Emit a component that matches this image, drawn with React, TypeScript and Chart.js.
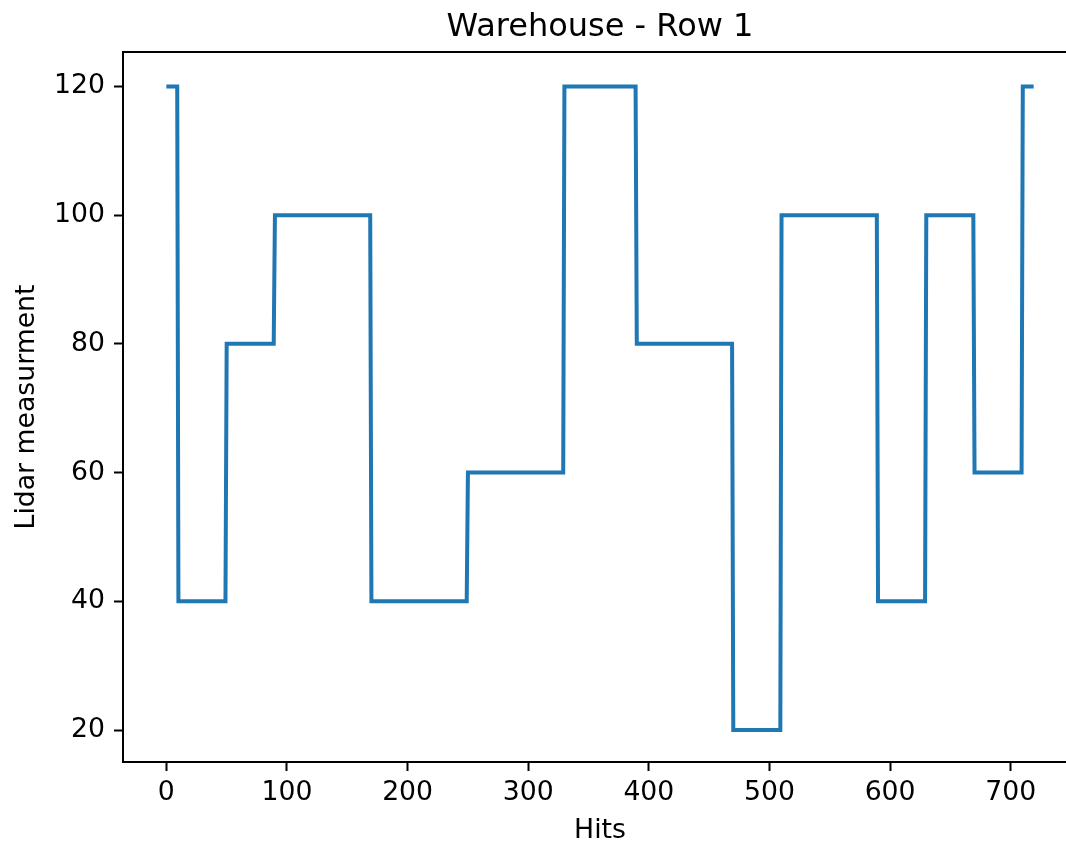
import React, { useEffect, useRef } from "react";
import { Chart, registerables } from "chart.js";

Chart.register(...registerables);

// Segment data: hit index where each level starts, and its level
const segmentStarts = [0, 10, 50, 90, 170, 250, 330, 390, 470, 510, 590, 630, 670, 710];
const segmentLevels = [120, 40, 80, 100, 40, 60, 120, 80, 20, 100, 40, 100, 60, 120];
const lastHit = 719;

const xTicks = [0, 100, 200, 300, 400, 500, 600, 700];
const yTicks = [20, 40, 60, 80, 100, 120];

const titleText = "Warehouse - Row 1";
const xLabel = "Hits";
const yLabel = "Lidar measurment";

const FONT = "'DejaVu Sans', sans-serif";

export default function App() {
  const ref = useRef<HTMLCanvasElement | null>(null);

  useEffect(() => {
    if (!ref.current) return;
    const points: { x: number; y: number }[] = [];
    segmentStarts.forEach((s, i) => {
      const end = i < segmentStarts.length - 1 ? segmentStarts[i + 1] - 1 : lastHit;
      points.push({ x: s, y: segmentLevels[i] });
      points.push({ x: end, y: segmentLevels[i] });
    });

    const decor = {
      id: "decor",
      afterDraw(chart: any) {
        const { ctx, chartArea: a } = chart;
        ctx.save();
        ctx.strokeStyle = "#000";
        ctx.lineWidth = 2;
        ctx.beginPath();
        ctx.moveTo(a.left, a.top);
        ctx.lineTo(a.right, a.top);
        ctx.lineTo(a.right, a.bottom);
        ctx.stroke();
        ctx.fillStyle = "#000";
        ctx.textAlign = "center";
        ctx.textBaseline = "alphabetic";
        const cx = (a.left + a.right) / 2;
        ctx.font = `32px ${FONT}`;
        ctx.fillText(titleText, cx, 36);
        ctx.font = `26.7px ${FONT}`;
        ctx.fillText(xLabel, cx, 838);
        ctx.save();
        ctx.translate(34, (a.top + a.bottom) / 2);
        ctx.rotate(-Math.PI / 2);
        ctx.fillText(yLabel, 0, 0);
        ctx.restore();
        ctx.restore();
      },
    };

    const chart = new Chart(ref.current, {
      type: "line",
      data: {
        datasets: [
          {
            data: points,
            borderColor: "#1f77b4",
            borderWidth: 4,
            pointRadius: 0,
            fill: false,
            tension: 0,
          },
        ],
      },
      options: {
        animation: false,
        responsive: false,
        devicePixelRatio: 1,
        layout: { padding: { left: 0, top: 52, right: 23, bottom: 0 } },
        plugins: { legend: { display: false }, tooltip: { enabled: false }, title: { display: false } },
        scales: {
          x: {
            type: "linear",
            min: -35.95,
            max: 754.95,
            afterBuildTicks: (s: any) => {
              s.ticks = xTicks.map((v) => ({ value: v }));
            },
            afterFit: (s: any) => {
              s.height = 86;
            },
            ticks: {
              color: "#000",
              font: { family: FONT, size: 26.7 },
              padding: 6,
              maxRotation: 0,
              autoSkip: false,
            },
            grid: {
              drawOnChartArea: false,
              drawTicks: true,
              tickLength: 9,
              tickWidth: 2,
              tickColor: "#000",
            },
            border: { display: true, color: "#000", width: 2 },
          },
          y: {
            type: "linear",
            min: 15.03,
            max: 125.35,
            afterBuildTicks: (s: any) => {
              s.ticks = yTicks.map((v) => ({ value: v }));
            },
            afterFit: (s: any) => {
              s.width = 123;
            },
            ticks: {
              color: "#000",
              font: { family: FONT, size: 26.7 },
              padding: 9,
              autoSkip: false,
            },
            grid: {
              drawOnChartArea: false,
              drawTicks: true,
              tickLength: 9,
              tickWidth: 2,
              tickColor: "#000",
            },
            border: { display: true, color: "#000", width: 2 },
          },
        },
      },
      plugins: [decor],
    });
    return () => chart.destroy();
  }, []);

  return (
    <div
      style={{
        position: "absolute",
        left: 0,
        top: 0,
        width: 1066,
        height: 848,
        overflow: "hidden",
        background: "#fff",
      }}
    >
      <canvas ref={ref} width={1100} height={848} style={{ width: 1100, height: 848, display: "block" }} />
    </div>
  );
}
